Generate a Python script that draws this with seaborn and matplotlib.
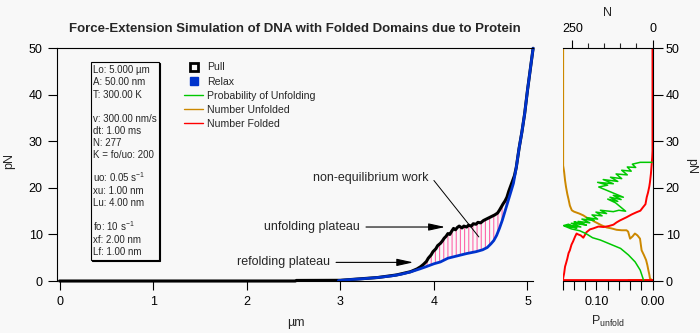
import numpy as np
import matplotlib
matplotlib.use("Agg")
import matplotlib.pyplot as plt
from matplotlib.lines import Line2D
from matplotlib.patches import Rectangle
import seaborn as sns

# ---- force-extension traces (extension in µm, force in pN) ----
pull_x = [0.00, 2.52, 2.53, 3.00, 3.20, 3.40, 3.60, 3.75, 3.82, 3.86, 3.89, 3.92,
          3.94, 3.97, 3.99, 4.02, 4.04, 4.07, 4.09, 4.11, 4.13, 4.15, 4.17, 4.19,
          4.21, 4.23, 4.25, 4.27, 4.30, 4.32, 4.35, 4.37, 4.40, 4.42, 4.45, 4.47,
          4.50, 4.53, 4.56, 4.59, 4.62, 4.65, 4.68, 4.70, 4.72, 4.74, 4.76, 4.78,
          4.80, 4.82, 4.84, 4.86, 4.88, 4.91, 4.94, 4.97, 5.00, 5.03, 5.06]
pull_f = [0.0, 0.0, 0.12, 0.15, 0.45, 0.75, 1.3, 2.0, 2.6, 3.1, 3.6, 4.2,
          4.9, 5.6, 6.3, 6.9, 7.6, 8.1, 8.6, 9.2, 9.6, 10.2, 10.0, 10.7,
          11.3, 11.0, 11.5, 11.8, 11.4, 11.8, 11.6, 12.0, 11.8, 12.3, 12.2, 12.6,
          12.5, 13.0, 13.3, 13.6, 13.9, 14.2, 14.6, 15.2, 15.9, 16.6, 17.2, 18.0,
          19.3, 20.4, 21.5, 22.6, 24.4, 28.5, 32.0, 36.0, 41.0, 45.5, 50.0]

relax_x = [2.98, 3.10, 3.25, 3.40, 3.55, 3.65, 3.75, 3.85, 3.92, 4.00, 4.07,
           4.15, 4.25, 4.35, 4.45, 4.52, 4.57, 4.61, 4.64, 4.67, 4.70, 4.73,
           4.76, 4.79, 4.82, 4.85, 4.88, 4.91, 4.94, 4.97, 5.00, 5.03, 5.06]
relax_f = [0.1, 0.3, 0.5, 0.75, 1.1, 1.45, 1.95, 2.6, 3.1, 3.7, 4.1,
           4.9, 5.4, 5.9, 6.3, 6.7, 7.2, 8.0, 8.7, 9.8, 11.3, 13.0,
           15.0, 17.0, 19.0, 21.0, 24.4, 28.5, 32.0, 36.0, 41.0, 45.5, 50.0]

# ---- side panel: domain counts and unfolding probability vs force ----
unfolded_n = [279, 279, 276, 273, 270, 266, 262, 258, 252, 245, 229, 216, 205,
              195, 185, 174, 160, 143, 128, 112, 96, 81, 76, 70, 62, 55, 47, 39,
              34, 27, 20, 16, 13, 10, 8, 4, 1.5, 1.5, 75]
unfolded_f = [50, 24.8, 23.5, 21.6, 20.2, 18.7, 17.5, 16.2, 15.2, 14.9, 14.5,
              14.1, 13.6, 13.4, 12.9, 12.5, 12.0, 11.5, 11.3, 11.0, 10.9, 10.9,
              10.6, 9.1, 9.6, 10.2, 9.8, 9.1, 6.6, 5.6, 4.5, 3.4, 2.35, 1.4, 0.6,
              0.3, 0.2, 0.2, 0.2]

folded_n = [0, 279, 279, 276, 273, 270, 266, 262, 258, 253, 248, 242, 237, 232,
            224, 216, 206, 195, 185, 169, 153, 137, 122, 112, 102, 90, 81, 65,
            49, 38, 29, 22, 18, 14, 10, 8, 5, 2.5, 1, 0, 0]
folded_f = [0.2, 0.2, 0.6, 1.6, 3.1, 3.8, 4.8, 6.0, 6.6, 7.8, 8.5, 9.5, 10.2,
            10.0, 9.8, 9.3, 10.5, 11.1, 11.3, 11.7, 11.6, 11.8, 12.1, 12.6,
            13.0, 13.4, 13.7, 14.3, 14.8, 15.1, 15.9, 16.5, 18.0, 19.0, 20.3,
            21.2, 23.0, 25.1, 26.5, 28.0, 50]

punfold_p = [0.016, 0.022, 0.031, 0.043, 0.057, 0.075, 0.093, 0.107, 0.119,
             0.130, 0.145, 0.157, 0.138, 0.150, 0.159, 0.135, 0.152, 0.128,
             0.145, 0.122, 0.140, 0.118, 0.133, 0.112, 0.126, 0.104, 0.118,
             0.098, 0.108, 0.090, 0.101, 0.082, 0.093, 0.070, 0.060, 0.048,
             0.066, 0.080, 0.062, 0.076, 0.056, 0.070, 0.052, 0.096, 0.080,
             0.098, 0.070, 0.088, 0.062, 0.075, 0.055, 0.065, 0.045, 0.055,
             0.038, 0.045, 0.030, 0.036, 0.022, 0.001]
punfold_f = [0.2, 2.35, 4.1, 5.6, 7.0, 7.9, 8.8, 9.3, 10.2, 10.8, 11.2, 11.8,
             11.5, 12.2, 11.9, 11.4, 12.0, 11.6, 12.4, 12.1, 12.7, 12.0, 12.8,
             12.5, 13.3, 13.0, 13.6, 13.3, 14.2, 14.0, 14.8, 14.5, 15.2, 14.9,
             15.2, 15.0, 16.8, 17.6, 17.1, 18.0, 17.5, 18.4, 18.0, 20.2, 20.6,
             21.2, 20.9, 21.8, 21.4, 22.3, 22.0, 23.0, 22.8, 23.8, 23.6, 24.5,
             24.4, 25.1, 25.5, 25.5]

params_lines = ["Lo: 5.000 µm", "A: 50.00 nm", "T: 300.00 K", "",
                "v: 300.00 nm/s", "dt: 1.00 ms", "N: 277", "K = fo/uo: 200", "",
                r"uo: 0.05 $\mathregular{s^{-1}}$", "xu: 1.00 nm", "Lu: 4.00 nm", "",
                r"fo: 10 $\mathregular{s^{-1}}$", "xf: 2.00 nm", "Lf: 1.00 nm"]

x_ticks = [0, 1, 2, 3, 4, 5]
f_ticks = [0, 10, 20, 30, 40, 50]
p_ticks = [0.0, 0.10]
p_ticklabels = ["0.00", "0.10"]
n_ticks = [0, 250]

# ---- style ----
BG = "#F8F8F8"
C_PULL = "#000000"
C_RELAX = "#0033CC"
C_PROB = "#00C800"
C_UNF = "#CC8800"
C_FOLD = "#FF0000"
C_WORK = "#FF66AA"

sns.set_style("ticks")
plt.rcParams["font.family"] = ["Liberation Sans", "DejaVu Sans"]
plt.rcParams["mathtext.fontset"] = "custom"
plt.rcParams["mathtext.rm"] = "Liberation Sans"
plt.rcParams["mathtext.it"] = "Liberation Sans:italic"
plt.rcParams["hatch.linewidth"] = 0.8
plt.rcParams["axes.linewidth"] = 0.8

W, H = 700, 333
fig = plt.figure(figsize=(W / 100, H / 100), dpi=100, facecolor=BG)


def fx(px):
    return px / W


def fy(py):
    return 1 - py / H


ax_bottom = fy(282.4)
ax_height = fy(48.3) - ax_bottom

# ---- main force-extension axes ----
ax = fig.add_axes([fx(56.7), ax_bottom, fx(533.3) - fx(56.7), ax_height])
ax.set_facecolor(BG)

px_arr = np.asarray(pull_x)
pf_arr = np.asarray(pull_f)
relax_on_pull = np.interp(px_arr, relax_x, relax_f)
mask = (px_arr >= 3.86) & (px_arr <= 4.84) & (pf_arr > relax_on_pull)
ax.fill_between(px_arr, relax_on_pull, pf_arr, where=mask, interpolate=True,
                facecolor="none", edgecolor=C_WORK, hatch="||||", linewidth=0)

sns.lineplot(x=pull_x, y=pull_f, sort=False, estimator=None, color=C_PULL,
             linewidth=2.2, ax=ax, legend=False, clip_on=False)
sns.lineplot(x=relax_x, y=relax_f, sort=False, estimator=None, color=C_RELAX,
             linewidth=2.0, ax=ax, legend=False, clip_on=False)

ax.set_xlim(-0.03, 5.062)
ax.set_ylim(-0.3, 50)
ax.set_xticks(x_ticks)
ax.set_yticks(f_ticks)
ax.set_xlabel("")
ax.set_ylabel("")
ax.spines["right"].set_visible(False)
ax.spines["bottom"].set_position(("data", 0))
ax.spines["bottom"].set_bounds(0, 5.062)
ax.spines["left"].set_bounds(0, 50)
for s in ax.spines.values():
    s.set_color("black")
ax.tick_params(axis="x", direction="out", length=6.5, width=0.8, pad=4.5,
               labelsize=9, colors="black")
ax.tick_params(axis="y", direction="out", length=6.5, width=0.8, pad=3.5,
               labelsize=9, colors="black")

# legend
handles = [
    Line2D([], [], marker="s", ls="none", markersize=5.5, mfc=BG, mec=C_PULL, mew=2.0),
    Line2D([], [], marker="s", ls="none", markersize=5.5, mfc=C_RELAX, mec=C_RELAX),
    Line2D([], [], color=C_PROB, lw=1.0),
    Line2D([], [], color=C_UNF, lw=1.0),
    Line2D([], [], color=C_FOLD, lw=1.0),
]
labels = ["Pull", "Relax", "Probability of Unfolding", "Number Unfolded", "Number Folded"]
ax.legend(handles, labels, loc="upper left", bbox_to_anchor=(fx(184), fy(62.5)),
          bbox_transform=fig.transFigure, frameon=False, fontsize=7.6,
          handlelength=1.8, handletextpad=0.35, labelspacing=0.38,
          borderpad=0, borderaxespad=0)

# annotations
ax.annotate("unfolding plateau", xy=(4.12, 11.6), xytext=(3.21, 11.6),
            ha="right", va="center", fontsize=9,
            arrowprops=dict(arrowstyle="-|>,head_length=1.0,head_width=0.22",
                            color="black", lw=0.8, shrinkA=2, shrinkB=0,
                            mutation_scale=10))
ax.annotate("refolding plateau", xy=(3.78, 4.0), xytext=(2.89, 4.0),
            ha="right", va="center", fontsize=9,
            arrowprops=dict(arrowstyle="-|>,head_length=1.0,head_width=0.22",
                            color="black", lw=0.8, shrinkA=2, shrinkB=0,
                            mutation_scale=10))
ax.text(3.32, 22.2, "non-equilibrium work", ha="center", va="center", fontsize=9)
ax.annotate("", xy=(4.48, 9.47), xytext=(4.0, 21.6),
            arrowprops=dict(arrowstyle="-", color="black", lw=0.7,
                            shrinkA=0, shrinkB=0))

# parameter box with drop shadow
bx0, bx1, by0, by1 = 90.7, 158.5, 61.7, 259.5
fig.add_artist(Rectangle((fx(bx0 + 1.6), fy(by1 + 1.6)), fx(bx1 - bx0), (by1 - by0) / H,
                         transform=fig.transFigure, facecolor="black",
                         edgecolor="black", lw=0.8, zorder=5))
fig.add_artist(Rectangle((fx(bx0), fy(by1)), fx(bx1 - bx0), (by1 - by0) / H,
                         transform=fig.transFigure, facecolor=BG,
                         edgecolor="black", lw=0.8, zorder=6))
for i, line in enumerate(params_lines):
    if line:
        fig.text(fx(93.3), fy(73.4 + 12.09 * i), line, fontsize=7,
                 ha="left", va="baseline", zorder=7)

# ---- side panel: P_unfold (bottom) and N (top) vs force ----
ax_p = fig.add_axes([fx(562.5), ax_bottom, fx(90), ax_height])
ax_n = ax_p.twiny()
ax_p.set_zorder(ax_n.get_zorder() + 1)
ax_p.patch.set_visible(False)
ax_n.set_facecolor(BG)

sns.lineplot(x=unfolded_n, y=unfolded_f, sort=False, estimator=None,
             color=C_UNF, linewidth=1.4, ax=ax_n, legend=False)
sns.lineplot(x=folded_n, y=folded_f, sort=False, estimator=None,
             color=C_FOLD, linewidth=1.4, ax=ax_n, legend=False)
sns.lineplot(x=punfold_p, y=punfold_f, sort=False, estimator=None,
             color=C_PROB, linewidth=1.1, ax=ax_p, legend=False)

ax_p.set_xlim(0.1607, 0)
ax_n.set_xlim(281, 0)
ax_p.set_ylim(-0.3, 50)
ax_n.set_ylim(-0.3, 50)
for a in (ax_p, ax_n):
    a.set_xlabel("")
    a.set_ylabel("")
    for s in a.spines.values():
        s.set_visible(False)
        s.set_color("black")

ax_p.spines["bottom"].set_visible(True)
ax_p.spines["bottom"].set_position(("data", 0))
ax_p.spines["right"].set_visible(True)
ax_p.spines["right"].set_bounds(0, 50)
ax_n.spines["top"].set_visible(True)

ax_p.yaxis.tick_right()
ax_p.set_yticks(f_ticks)
ax_p.set_xticks(p_ticks)
ax_p.set_xticklabels(p_ticklabels)
ax_p.set_xticks([0.02, 0.04, 0.06, 0.08, 0.12, 0.14, 0.16], minor=True)
ax_p.tick_params(axis="x", which="both", direction="out", length=6.5, width=0.8,
                 pad=4.5, labelsize=9, colors="black")
ax_p.tick_params(axis="y", which="both", direction="out", length=7.5, width=0.8,
                 pad=2, labelsize=9, colors="black", left=False, right=True,
                 labelleft=False, labelright=True)

ax_n.set_xticks(n_ticks)
ax_n.set_xticks([50, 100, 150, 200], minor=True)
ax_n.tick_params(axis="x", which="major", direction="out", length=6, width=0.8,
                 pad=3.4, labelsize=9, colors="black")
ax_n.tick_params(axis="x", which="minor", direction="out", length=3.6, width=0.8)

# ---- text labels ----
fig.text(fx(295), fy(32.5), "Force-Extension Simulation of DNA with Folded Domains due to Protein",
         ha="center", va="baseline", fontsize=9.5, fontweight="bold")
fig.text(fx(295.5), fy(323), "µm", ha="center", va="center", fontsize=9)
fig.text(fx(9.5), fy(161), "pN", rotation=90, ha="center", va="center", fontsize=9)
fig.text(fx(691.5), fy(166), "pN", rotation=270, ha="center", va="center", fontsize=9)
fig.text(fx(607.2), fy(12.8), "N", ha="center", va="center", fontsize=9)
fig.text(fx(608), fy(325), r"$\mathregular{P_{unfold}}$", ha="center", va="baseline", fontsize=9)

fig.savefig("out.png", dpi=100, facecolor=BG)
